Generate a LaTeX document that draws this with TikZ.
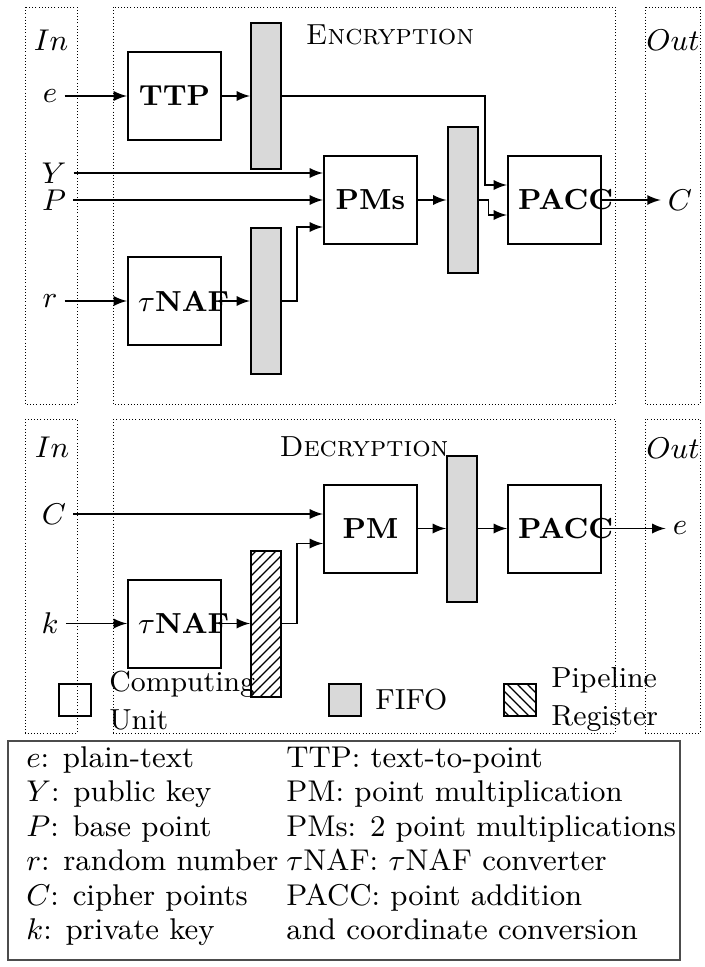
\documentclass[tikz,border=0pt]{standalone}
\usetikzlibrary{calc,patterns}

\begin{document}
\begin{tikzpicture}[
  x=0.3pt, y=-0.3pt,
  every node/.style={font=\fontsize{8.7}{11.4}\selectfont, inner sep=2pt},
  unit/.style={draw, semithick, text width=21.9pt, minimum height=26.4pt,
    inner sep=3pt, align=center, font=\fontsize{8.7}{11.4}\selectfont\bfseries},
  fifo/.style={draw, semithick, fill=black!15, minimum width=9pt,
    minimum height=43.8pt, inner sep=0pt},
  preg/.style={draw, semithick, pattern=north east lines, minimum width=9pt,
    minimum height=43.8pt, inner sep=0pt},
  keybox/.style={draw, semithick, minimum size=9.6pt, inner sep=0pt},
  frame/.style={line width=0.3pt, dash pattern=on 0.3pt off 0.65pt},
  legtext/.style={anchor=base west, font=\fontsize{9}{11}\selectfont},
  link/.style={thin, -latex}
]
\useasboundingbox (0,0) rectangle (705,967);

% encryption
\draw[frame] (25,7) rectangle (77,404);
\draw[frame] (113,7) rectangle (615,404);
\draw[frame] (645,7) rectangle (700,404);
\node (inE) at (51,40) {$In$};
\node (enc) at (390,35) {\textsc{Encryption}};
\node (outE) at (673,40) {$Out$};

\node (e) at (50,96) {$e$};
\node (Y) at (54,173) {$Y$};
\node (P) at (54,200) {$P$};
\node (r) at (50,301) {$r$};
\node[unit] (ttp) at (174.5,96) {TTP};
\node[fifo] (fifoA) at (266,96) {};
\node[unit] (tnafE) at (174.5,301) {$\tau$NAF};
\node[fifo] (fifoB) at (266,301) {};
\node[unit] (pms) at (370.5,200) {PMs};
\node[fifo] (fifoC) at (462.5,200) {};
\node[unit] (paccE) at (554.5,200) {PACC};
\node (Cout) at (680,200) {$C$};
\coordinate (jA) at (485,185);

\draw[link] (e) -- (ttp);
\draw[link] (ttp) -- (fifoA);
\draw[link] (fifoA.east) -| (jA) -- (jA -| paccE.west);
\draw[link] (Y) -- (Y -| pms.west);
\draw[link] (P) -- (pms);
\draw[link] (r) -- (tnafE);
\draw[link] (tnafE) -- (fifoB);
\draw[link] (fifoB.east) -- ++(15,0) |- ($(pms.west)+(0,27)$);
\draw[link] (pms) -- (fifoC);
\draw[link] (fifoC.east) -- ++(10,0) |- ($(paccE.west)+(0,15)$);
\draw[link] (paccE) -- (Cout);

% decryption
\draw[frame] (25,419) rectangle (77,733);
\draw[frame] (113,419) rectangle (615,733);
\draw[frame] (645,419) rectangle (700,733);
\node (inD) at (52,447) {$In$};
\node (dec) at (364,447) {\textsc{Decryption}};
\node (outD) at (673,448) {$Out$};

\node (Cin) at (54,514) {$C$};
\node (k) at (50,623.5) {$k$};
\node[unit] (pm) at (370.5,528.5) {PM};
\node[fifo] (fifoD) at (462,528.5) {};
\node[unit] (paccD) at (554.5,528.5) {PACC};
\node (eout) at (680,528.5) {$e$};
\node[unit] (tnafD) at (174.5,623.5) {$\tau$NAF};
\node[preg] (regD) at (266,623.5) {};

\draw[link] (Cin) -- (Cin -| pm.west);
\draw[link] (k) -- (tnafD);
\draw[link] (tnafD) -- (regD);
\draw[link] (regD.east) -- ++(15,0) |- ($(pm.west)+(0,15)$);
\draw[link] (pm) -- (fifoD);
\draw[link] (fifoD) -- (paccD);
\draw[link] (paccD) -- (eout);

% key
\node[keybox] (cuSq) at (75,700) {};
\node[anchor=west, align=left] (cuTxt) at (102,701) {Computing\\Unit};
\node[keybox, fill=black!15] (fifoSq) at (345,700) {};
\node[anchor=west] (fifoTxt) at (368,700) {FIFO};
\node[keybox, pattern=north west lines] (pregSq) at (519.5,700) {};
\node[anchor=west, align=left] (pregTxt) at (544,699) {Pipeline\\Register};

% abbreviations
\draw[black!70] (8,741) rectangle (680,960);
\foreach \i/\lt/\rt in {0/{$e$: plain-text}/{TTP: text-to-point},
    1/{$Y$: public key}/{PM: point multiplication},
    2/{$P$: base point}/{PMs: 2 point multiplications},
    3/{$r$: random number}/{$\tau$NAF: $\tau$NAF converter},
    4/{$C$: cipher points}/{PACC: point addition},
    5/{$k$: private key}/{and coordinate conversion}}{
  \node[legtext] (abl\i) at (19,767+34.5*\i) {\lt};
  \node[legtext] (abr\i) at (279,767+34.5*\i) {\rt};
}
\end{tikzpicture}
\end{document}
